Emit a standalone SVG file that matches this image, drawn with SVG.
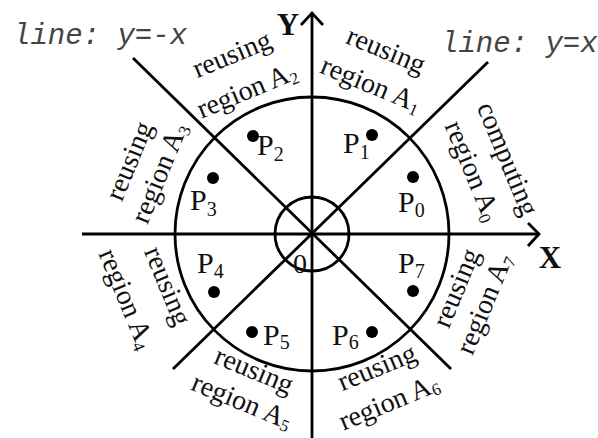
<svg xmlns="http://www.w3.org/2000/svg" width="598" height="438" viewBox="0 0 598 438">
<style>
.ln{fill:none;stroke:#000;stroke-width:2.8;stroke-linecap:butt}
.t{font-family:"Liberation Serif","Times New Roman",serif;fill:#111}
.lbl{font-size:28px;text-anchor:middle}
.p{font-size:30px}
.sub{font-size:20px}
.ssub{font-size:17px}
.eq{font-family:"Liberation Mono","Courier New",monospace;font-style:italic;font-size:29px;fill:#444}
.dot{fill:#000}
</style>
<rect width="598" height="438" fill="#fff"/>
<g id="connectors">
<line class="ln" x1="312" y1="13" x2="312" y2="438"/>
<polyline class="ln" points="301,25 312,13 323,25"/>
<line class="ln" x1="82" y1="234" x2="539" y2="234"/>
<polyline class="ln" points="528,223 539,234 528,246"/>
<line class="ln" x1="173" y1="369" x2="488" y2="62"/>
<line class="ln" x1="133" y1="58" x2="451" y2="369"/>
<circle class="ln" cx="312" cy="234" r="137"/>
<circle class="ln" cx="312" cy="234" r="37"/>
</g>
<g id="axis-labels">
<text class="t" x="288" y="35" font-size="31" font-weight="bold" text-anchor="middle">Y</text>
<text class="t" x="550" y="268" font-size="31" font-weight="bold" text-anchor="middle">X</text>
<text class="t" x="300" y="273" font-size="28" text-anchor="middle">0</text>
<text class="eq" x="13" y="44">line: y=-x</text>
<text class="eq" x="441" y="52">line: y=x</text>
</g>
<g id="P0"><circle class="dot" cx="413" cy="177" r="6"/><text class="t p" x="398" y="212">P<tspan class="sub" dy="5">0</tspan></text></g>
<g id="P1"><circle class="dot" cx="372" cy="135" r="6"/><text class="t p" x="343" y="153">P<tspan class="sub" dy="6">1</tspan></text></g>
<g id="P2"><circle class="dot" cx="253" cy="136" r="6"/><text class="t p" x="257" y="155">P<tspan class="sub" dy="6">2</tspan></text></g>
<g id="P3"><circle class="dot" cx="213" cy="178" r="6"/><text class="t p" x="190" y="210">P<tspan class="sub" dy="6">3</tspan></text></g>
<g id="P4"><circle class="dot" cx="214" cy="292" r="6"/><text class="t p" x="197" y="273">P<tspan class="sub" dy="5">4</tspan></text></g>
<g id="P5"><circle class="dot" cx="252" cy="332" r="6"/><text class="t p" x="263" y="345">P<tspan class="sub" dy="4">5</tspan></text></g>
<g id="P6"><circle class="dot" cx="372" cy="332" r="6"/><text class="t p" x="332" y="345">P<tspan class="sub" dy="4">6</tspan></text></g>
<g id="P7"><circle class="dot" cx="413" cy="291" r="6"/><text class="t p" x="398" y="273">P<tspan class="sub" dy="5">7</tspan></text></g>
<g id="A0" class="t lbl">
<text transform="translate(505 160) rotate(67.5)" y="6">computing</text>
<text transform="translate(470 172) rotate(67.5)" y="6">region A<tspan class="ssub" dy="4">0</tspan></text>
</g>
<g id="A1" class="t lbl">
<text transform="translate(385 53) rotate(22.5)" y="6">reusing</text>
<text transform="translate(370 87) rotate(22.5)" y="6">region A<tspan class="ssub" dy="4">1</tspan></text>
</g>
<g id="A2" class="t lbl">
<text transform="translate(233 57) rotate(-22.5)" y="6">reusing</text>
<text transform="translate(248 93) rotate(-22.5)" y="6">region A<tspan class="ssub" dy="4">2</tspan></text>
</g>
<g id="A3" class="t lbl">
<text transform="translate(132 162) rotate(-67.5)" y="6">reusing</text>
<text transform="translate(162 174) rotate(-67.5)" y="6">region A<tspan class="ssub" dy="4">3</tspan></text>
</g>
<g id="A4" class="t lbl">
<text transform="translate(165 287) rotate(67.5)" y="6">reusing</text>
<text transform="translate(124 300) rotate(67.5)" y="6">region A<tspan class="ssub" dy="4">4</tspan></text>
</g>
<g id="A5" class="t lbl">
<text transform="translate(253 373) rotate(22.5)" y="6">reusing</text>
<text transform="translate(241 404) rotate(22.5)" y="6">region A<tspan class="ssub" dy="3">5</tspan></text>
</g>
<g id="A6" class="t lbl">
<text transform="translate(378 370) rotate(-22.5)" y="6">reusing</text>
<text transform="translate(390 405) rotate(-22.5)" y="6">region A<tspan class="ssub" dy="3">6</tspan></text>
</g>
<g id="A7" class="t lbl">
<text transform="translate(459 289) rotate(-67.5)" y="6">reusing</text>
<text transform="translate(487 305) rotate(-67.5)" y="6">region A<tspan class="ssub" dy="4">7</tspan></text>
</g>
</svg>
